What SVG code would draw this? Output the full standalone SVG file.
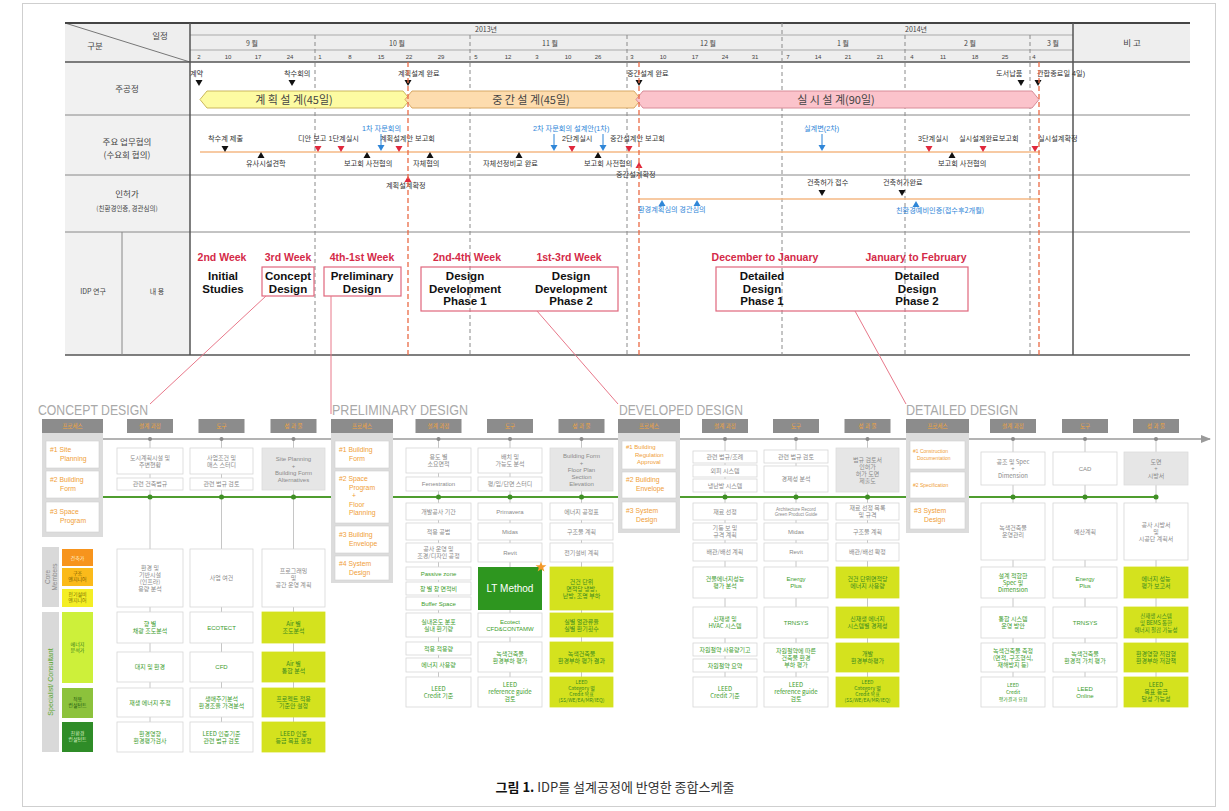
<svg xmlns="http://www.w3.org/2000/svg" width="1229" height="811" viewBox="0 0 1229 811">
<defs>
<style>
text{font-family:"Liberation Sans","Noto Sans CJK KR",sans-serif;}
.k{font-family:"Noto Sans CJK KR","Liberation Sans",sans-serif;}
.hd{font-size:7px;fill:#444;text-anchor:middle;}
.lb{font-size:8.5px;fill:#444;text-anchor:middle;}
.ms{font-size:7.2px;fill:#333;}
.bl{font-size:7.2px;fill:#2f86d8;}
.band{font-size:11px;fill:#444;text-anchor:middle;}
.wk{font-size:10.5px;fill:#d42a48;font-weight:bold;text-anchor:middle;}
.idp{font-size:11.5px;fill:#111;font-weight:bold;text-anchor:middle;}
.ibox{fill:none;stroke:#e0667c;stroke-width:1.2;}
.gl{stroke:#555;stroke-width:1.5;}
.rl{stroke:#888;stroke-width:1;}
.md{stroke:#8a8a8a;stroke-width:1;stroke-dasharray:4 3;}
.rd{stroke:#ea6a45;stroke-width:1.3;stroke-dasharray:5 3;}
.ph{font-size:14px;fill:#a9a9a9;}
.tab{fill:#8c8c8c;}
.tt{font-size:5.5px;fill:#f3a43a;text-anchor:middle;}
.pan{fill:#dcdcdc;}
.it{fill:#ffffff;stroke:#d0d0d0;stroke-width:0.6;}
.io{font-size:6.8px;fill:#f0a038;}
.bx{fill:#ffffff;stroke:#d6d6d6;stroke-width:0.8;}
.gx{fill:#e6e6e6;stroke:#dcdcdc;stroke-width:0.8;}
.yx{fill:#d4e21e;stroke:#d4e21e;stroke-width:0.8;}
.t{font-size:6px;fill:#8a8a8a;text-anchor:middle;}
.g{font-size:6px;fill:#3d9c2c;text-anchor:middle;}
.y{font-size:6px;fill:#3a8a1e;text-anchor:middle;}
.vc{stroke:#c6c6c6;stroke-width:1;}
.pk{stroke:#e8788a;stroke-width:1;fill:none;}
</style>
<marker id="ah" markerWidth="10" markerHeight="8" refX="9" refY="4" orient="auto" markerUnits="userSpaceOnUse">
<path d="M0,0 L10,4 L0,8 z" fill="#9a9a9a"/>
</marker>
<path id="dn" d="M-3.5,0 h7 l-3.5,6 z"/>
<path id="up" d="M-3.5,6 h7 l-3.5,-6 z"/>
</defs>
<rect x="0" y="0" width="1229" height="811" fill="#ffffff"/>
<rect x="22.5" y="3.5" width="1193" height="803" fill="none" stroke="#cfcfcf" stroke-width="1"/>

<!-- ===== TOP SCHEDULE TABLE ===== -->
<g id="schedule-table">
<rect x="65" y="23" width="1125" height="39" fill="#eeeeee"/>
<rect x="65" y="62" width="125" height="293" fill="#f1f1f1"/>
<line x1="65" y1="23" x2="190" y2="62" stroke="#777" stroke-width="1"/>
<text class="lb k" x="95" y="49">구분</text>
<text class="lb k" x="160" y="39">일정</text>
<text class="hd k" x="486" y="32">2013년</text>
<text class="hd k" x="916" y="32">2014년</text>
<text class="hd k" x="252" y="46">9 월</text>
<text class="hd k" x="397" y="46">10 월</text>
<text class="hd k" x="550" y="46">11 월</text>
<text class="hd k" x="708" y="46">12 월</text>
<text class="hd k" x="843" y="46">1 월</text>
<text class="hd k" x="970" y="46">2 월</text>
<text class="hd k" x="1053" y="46">3 월</text>
<text class="lb k" x="1132" y="46">비 고</text>
<g class="hd" style="font-size:6px">
<text x="199" y="59">2</text><text x="228" y="59">10</text><text x="258" y="59">17</text><text x="290" y="59">24</text>
<text x="320" y="59">1</text><text x="350" y="59">8</text><text x="381" y="59">15</text><text x="409" y="59">22</text><text x="441" y="59">29</text>
<text x="476" y="59">5</text><text x="508" y="59">12</text><text x="537" y="59">3</text><text x="568" y="59">10</text><text x="598" y="59">26</text>
<text x="632" y="59">3</text><text x="663" y="59">10</text><text x="695" y="59">17</text><text x="725" y="59">24</text><text x="755" y="59">31</text>
<text x="788" y="59">7</text><text x="818" y="59">14</text><text x="848" y="59">21</text><text x="880" y="59">21</text>
<text x="912" y="59">4</text><text x="943" y="59">11</text><text x="975" y="59">18</text><text x="1005" y="59">25</text>
<text x="1034" y="59">4</text>
</g>
<line x1="190" y1="35" x2="1073" y2="35" stroke="#aaa"/>
<line x1="190" y1="50" x2="1073" y2="50" stroke="#aaa"/>
<line x1="65" y1="23" x2="1190" y2="23" stroke="#444" stroke-width="2"/>
<line x1="65" y1="62" x2="1190" y2="62" class="gl"/>
<line x1="65" y1="115" x2="1190" y2="115" class="rl"/>
<line x1="65" y1="175" x2="1190" y2="175" class="rl"/>
<line x1="65" y1="232" x2="1190" y2="232" class="rl"/>
<line x1="65" y1="355" x2="1190" y2="355" class="gl"/>
<line x1="190" y1="23" x2="190" y2="355" class="gl"/>
<line x1="1073" y1="23" x2="1073" y2="355" class="gl"/>
<line x1="122" y1="232" x2="122" y2="355" class="rl"/>
<g>
<line x1="315" y1="35" x2="315" y2="355" class="md"/>
<line x1="470" y1="35" x2="470" y2="355" class="md"/>
<line x1="627" y1="35" x2="627" y2="355" class="md"/>
<line x1="782" y1="23" x2="782" y2="355" class="md"/>
<line x1="905" y1="35" x2="905" y2="355" class="md"/>
<line x1="1030" y1="35" x2="1030" y2="355" class="md"/>
</g>
<text class="lb k" x="127" y="92">주공정</text>
<text class="lb k" x="127" y="145">주요 업무협의</text>
<text class="lb k" x="127" y="158">(수요회 협의)</text>
<text class="lb k" x="127" y="197">인허가</text>
<text class="lb k" x="127" y="211" style="font-size:6.5px">(친환경인증, 경관심의)</text>
<text class="lb k" x="93" y="294" style="font-size:7px">IDP 연구</text>
<text class="lb k" x="157" y="294" style="font-size:7px">내 용</text>
</g>

<!-- main process bands -->
<g id="main-process">
<polygon points="200,99.5 207,91 403,91 410,99.5 403,108 207,108" fill="#fdfba2" stroke="#cbb75c" stroke-width="1"/>
<polygon points="405,99.5 412,91 634,91 641,99.5 634,108 412,108" fill="#fddcae" stroke="#d8a864" stroke-width="1"/>
<polygon points="636,99.5 643,91 1032,91 1039,99.5 1032,108 643,108" fill="#fbc3cb" stroke="#d88c98" stroke-width="1"/>
<text class="band k" x="294" y="103.5">계 획 설 계(45일)</text>
<text class="band k" x="531" y="103.5">중 간 설 계(45일)</text>
<text class="band k" x="836" y="103.5">실 시 설 계(90일)</text>
<g class="ms k">
<text x="190" y="76">계약</text>
<text x="284" y="76">착수회의</text>
<text x="398" y="76">계획설계 완료</text>
<text x="627" y="76">중간설계 완료</text>
<text x="996" y="76">도서납품</text>
<text x="1037" y="76">관합종료일 4일)</text>
</g>
<g fill="#111">
<use href="#dn" x="199" y="80"/><use href="#dn" x="292" y="80"/><use href="#dn" x="408" y="80"/>
<use href="#dn" x="639" y="80"/><use href="#dn" x="1021" y="80"/><use href="#dn" x="1038" y="80"/>
</g>
</g>

<!-- consultations -->
<g id="consultations">
<line x1="200" y1="152" x2="1040" y2="152" stroke="#f4b884" stroke-width="1.5"/>
<g class="ms k">
<text x="208" y="141">착수계 제출</text>
<text x="246" y="166">유사시설견학</text>
<text x="298" y="141">디안 보고 1단계실시</text>
<text x="380" y="141">계획설계안 보고회</text>
<text x="344" y="166">보고회 사전협의</text>
<text x="413" y="166">자체협의</text>
<text x="483" y="166">자체선정비교 완료</text>
<text x="562" y="141">2단계실시</text>
<text x="610" y="141">중간설계안 보고회</text>
<text x="584" y="166">보고회 사전협의</text>
<text x="616" y="177">중간설계확정</text>
<text x="918" y="141">3단계실시</text>
<text x="959" y="141">실시설계완료보고회</text>
<text x="938" y="166">보고회 사전협의</text>
<text x="1038" y="141">실시설계확정</text>
</g>
<g class="bl k">
<text x="362" y="131">1차 자문회의</text>
<text x="533" y="131">2차 자문회의 설계안(1차)</text>
<text x="804" y="131">실계변(2차)</text>
</g>
<g fill="#111">
<use href="#dn" x="225" y="146"/>
<use href="#up" x="261" y="152"/><use href="#up" x="367" y="152"/><use href="#up" x="430" y="152"/>
<use href="#up" x="519" y="152"/><use href="#up" x="598" y="152"/><use href="#up" x="952" y="152"/>
</g>
<g fill="#e0283c">
<use href="#dn" x="318" y="146"/><use href="#dn" x="341" y="146"/><use href="#dn" x="399" y="146"/>
<use href="#dn" x="572" y="146"/><use href="#dn" x="629" y="146"/><use href="#dn" x="929" y="146"/>
<use href="#dn" x="983" y="146"/><use href="#dn" x="1035" y="146"/>
<use href="#up" x="639" y="162"/>
</g>
<g stroke="#2f86d8" stroke-width="1">
<line x1="381" y1="134" x2="381" y2="146"/><line x1="554" y1="134" x2="554" y2="146"/>
<line x1="603" y1="134" x2="603" y2="146"/><line x1="822" y1="134" x2="822" y2="146"/>
</g>
<g fill="#2f86d8">
<use href="#dn" x="381" y="145"/><use href="#dn" x="554" y="145"/><use href="#dn" x="603" y="145"/><use href="#dn" x="822" y="145"/>
</g>
</g>

<!-- permits -->
<g id="permits">
<line x1="640" y1="199" x2="1040" y2="199" stroke="#f4b884" stroke-width="1.5"/>
<use href="#up" x="408" y="176" fill="#e0283c"/>
<text class="ms k" x="386" y="188">계획설계확정</text>
<text class="ms k" x="807" y="185">건축허가 접수</text>
<text class="ms k" x="883" y="185">건축허가완료</text>
<g fill="#111"><use href="#dn" x="822" y="190"/><use href="#dn" x="902" y="190"/></g>
<g fill="#2f86d8"><use href="#up" x="662" y="200"/><use href="#up" x="697" y="200"/><use href="#up" x="916" y="201"/></g>
<text class="bl k" x="638" y="212">환경계획심의  경관심의</text>
<text class="bl k" x="896" y="213">친환경예비인증(접수후2개월)</text>
</g>

<!-- red dashed milestones -->
<g id="milestone-lines">
<line x1="408" y1="62" x2="408" y2="357" class="rd"/>
<line x1="639" y1="62" x2="639" y2="357" class="rd"/>
<line x1="1039" y1="62" x2="1039" y2="357" class="rd"/>
</g>

<!-- IDP row -->
<g id="idp-row">
<text class="wk" x="222" y="261">2nd Week</text>
<text class="wk" x="288" y="261">3rd Week</text>
<text class="wk" x="362" y="261">4th-1st Week</text>
<text class="wk" x="467" y="261">2nd-4th Week</text>
<text class="wk" x="569" y="261">1st-3rd Week</text>
<text class="wk" x="765" y="261">December to January</text>
<text class="wk" x="916" y="261">January to February</text>
<text class="idp" x="223" y="280"><tspan x="223" dy="0">Initial</tspan><tspan x="223" dy="13">Studies</tspan></text>
<g id="idp-concept"><rect class="ibox" x="262" y="267" width="52" height="29"/>
<text class="idp" x="288" y="280"><tspan x="288" dy="0">Concept</tspan><tspan x="288" dy="13">Design</tspan></text></g>
<g id="idp-prelim"><rect class="ibox" x="324" y="267" width="77" height="29"/>
<text class="idp" x="362" y="280"><tspan x="362" dy="0">Preliminary</tspan><tspan x="362" dy="13">Design</tspan></text></g>
<g id="idp-dd"><rect class="ibox" x="421" y="267" width="197" height="44"/>
<text class="idp" x="465" y="280"><tspan x="465" dy="0">Design</tspan><tspan x="465" dy="12.5">Development</tspan><tspan x="465" dy="12.5">Phase 1</tspan></text>
<text class="idp" x="571" y="280"><tspan x="571" dy="0">Design</tspan><tspan x="571" dy="12.5">Development</tspan><tspan x="571" dy="12.5">Phase 2</tspan></text></g>
<g id="idp-detailed"><rect class="ibox" x="716" y="267" width="252" height="44"/>
<text class="idp" x="762" y="280"><tspan x="762" dy="0">Detailed</tspan><tspan x="762" dy="12.5">Design</tspan><tspan x="762" dy="12.5">Phase 1</tspan></text>
<text class="idp" x="917" y="280"><tspan x="917" dy="0">Detailed</tspan><tspan x="917" dy="12.5">Design</tspan><tspan x="917" dy="12.5">Phase 2</tspan></text></g>
</g>

<!-- connectors -->
<g id="connectors">
<line class="pk" x1="266" y1="296" x2="150" y2="404"/>
<line class="pk" x1="331" y1="296" x2="331" y2="414"/>
<line class="pk" x1="537" y1="311" x2="618" y2="404"/>
<line class="pk" x1="855" y1="311" x2="906" y2="404"/>
<line x1="103" y1="439" x2="1210" y2="439" stroke="#9a9a9a" stroke-width="1.5" marker-end="url(#ah)"/>
<line x1="103" y1="497" x2="1158" y2="497" stroke="#4f9d2f" stroke-width="2"/>
<g class="vc">
<line x1="150" y1="439" x2="150" y2="752"/><line x1="221.5" y1="439" x2="221.5" y2="752"/><line x1="293.5" y1="439" x2="293.5" y2="752"/>
<line x1="438.5" y1="439" x2="438.5" y2="707"/><line x1="510" y1="439" x2="510" y2="707"/><line x1="581.5" y1="439" x2="581.5" y2="707"/>
<line x1="725" y1="439" x2="725" y2="707"/><line x1="796" y1="439" x2="796" y2="707"/><line x1="867.5" y1="439" x2="867.5" y2="707"/>
<line x1="1013" y1="439" x2="1013" y2="707"/><line x1="1085" y1="439" x2="1085" y2="707"/><line x1="1156" y1="439" x2="1156" y2="707"/>
</g>
<g fill="#8a8a8a">
<circle cx="150" cy="439" r="2"/><circle cx="221.5" cy="439" r="2"/><circle cx="293.5" cy="439" r="2"/>
<circle cx="438.5" cy="439" r="2"/><circle cx="510" cy="439" r="2"/><circle cx="581.5" cy="439" r="2"/>
<circle cx="725" cy="439" r="2"/><circle cx="796" cy="439" r="2"/><circle cx="867.5" cy="439" r="2"/>
<circle cx="1013" cy="439" r="2"/><circle cx="1085" cy="439" r="2"/><circle cx="1156" cy="439" r="2"/>
</g>
<g fill="#3f8f25">
<circle cx="150" cy="497" r="2.5"/><circle cx="221.5" cy="497" r="2.5"/><circle cx="293.5" cy="497" r="2.5"/>
<circle cx="438.5" cy="497" r="2.5"/><circle cx="510" cy="497" r="2.5"/><circle cx="581.5" cy="497" r="2.5"/>
<circle cx="725" cy="497" r="2.5"/><circle cx="796" cy="497" r="2.5"/><circle cx="867.5" cy="497" r="2.5"/>
<circle cx="1013" cy="497" r="2.5"/><circle cx="1085" cy="497" r="2.5"/><circle cx="1156" cy="497" r="2.5"/>
</g>
</g>

<!-- phase titles & tabs -->
<g id="phase-headers">
<text class="ph" x="38" y="415" textLength="110" lengthAdjust="spacingAndGlyphs">CONCEPT  DESIGN</text>
<text class="ph" x="332" y="415" textLength="136" lengthAdjust="spacingAndGlyphs">PRELIMINARY  DESIGN</text>
<text class="ph" x="619" y="415" textLength="124" lengthAdjust="spacingAndGlyphs">DEVELOPED  DESIGN</text>
<text class="ph" x="906" y="415" textLength="112" lengthAdjust="spacingAndGlyphs">DETAILED  DESIGN</text>
<g class="tab">
<rect x="42" y="419" width="61" height="14"/><rect x="127" y="419" width="46" height="14"/><rect x="198.5" y="419" width="46" height="14"/><rect x="270.5" y="419" width="46" height="14"/>
<rect x="331" y="419" width="62" height="14"/><rect x="415.5" y="419" width="46" height="14"/><rect x="487" y="419" width="46" height="14"/><rect x="558.5" y="419" width="46" height="14"/>
<rect x="618" y="419" width="62" height="14"/><rect x="702" y="419" width="46" height="14"/><rect x="773" y="419" width="46" height="14"/><rect x="844.5" y="419" width="46" height="14"/>
<rect x="906" y="419" width="63" height="14"/><rect x="990" y="419" width="46" height="14"/><rect x="1062" y="419" width="46" height="14"/><rect x="1133" y="419" width="46" height="14"/>
</g>
<g class="tt k">
<text x="72.5" y="428">프로세스</text><text x="150" y="428">설계 과정</text><text x="221.5" y="428">도구</text><text x="293.5" y="428">성 과 물</text>
<text x="362" y="428">프로세스</text><text x="438.5" y="428">설계 과정</text><text x="510" y="428">도구</text><text x="581.5" y="428">성 과 물</text>
<text x="649" y="428">프로세스</text><text x="725" y="428">설계 과정</text><text x="796" y="428">도구</text><text x="867.5" y="428">성 과 물</text>
<text x="937.5" y="428">프로세스</text><text x="1013" y="428">설계 과정</text><text x="1085" y="428">도구</text><text x="1156" y="428">성 과 물</text>
</g>
</g>

<!-- IDP process panels -->
<g id="panel-concept">
<rect class="pan" x="42" y="433" width="61" height="104"/>
<rect class="it" x="46" y="441" width="53" height="27"/><rect class="it" x="46" y="471" width="53" height="27"/><rect class="it" x="46" y="502" width="53" height="30"/>
<text class="io" x="50" y="452"><tspan x="50" dy="0">#1 Site</tspan><tspan x="60" dy="9">Planning</tspan></text>
<text class="io" x="50" y="482"><tspan x="50" dy="0">#2 Building</tspan><tspan x="60" dy="9">Form</tspan></text>
<text class="io" x="50" y="514"><tspan x="50" dy="0">#3 Space</tspan><tspan x="60" dy="9">Program</tspan></text>
</g>
<g id="panel-prelim">
<rect class="pan" x="331" y="433" width="62" height="150"/>
<rect class="it" x="335" y="441" width="54" height="27"/><rect class="it" x="335" y="471" width="54" height="52"/><rect class="it" x="335" y="526" width="54" height="27"/><rect class="it" x="335" y="556" width="54" height="24"/>
<text class="io" x="339" y="452"><tspan x="339" dy="0">#1 Building</tspan><tspan x="349" dy="9">Form</tspan></text>
<text class="io" x="339" y="481"><tspan x="339" dy="0">#2 Space</tspan><tspan x="349" dy="8.5">Program</tspan><tspan x="352" dy="8.5">+</tspan><tspan x="349" dy="8.5">Floor</tspan><tspan x="349" dy="8.5">Planning</tspan></text>
<text class="io" x="339" y="537"><tspan x="339" dy="0">#3 Building</tspan><tspan x="349" dy="9">Envelope</tspan></text>
<text class="io" x="339" y="566"><tspan x="339" dy="0">#4 System</tspan><tspan x="349" dy="9">Design</tspan></text>
</g>
<g id="panel-developed">
<rect class="pan" x="618" y="433" width="62" height="100"/>
<rect class="it" x="622" y="441" width="54" height="28"/><rect class="it" x="622" y="472" width="54" height="26"/><rect class="it" x="622" y="502" width="54" height="27"/>
<text class="io" x="626" y="449" style="font-size:6px"><tspan x="626" dy="0">#1 Building</tspan><tspan x="635" dy="7.5">Regulation</tspan><tspan x="637" dy="7.5">Approval</tspan></text>
<text class="io" x="626" y="482"><tspan x="626" dy="0">#2 Building</tspan><tspan x="636" dy="9">Envelope</tspan></text>
<text class="io" x="626" y="513"><tspan x="626" dy="0">#3 System</tspan><tspan x="636" dy="9">Design</tspan></text>
</g>
<g id="panel-detailed">
<rect class="pan" x="906" y="433" width="63" height="100"/>
<rect class="it" x="910" y="441" width="55" height="28"/><rect class="it" x="910" y="472" width="55" height="26"/><rect class="it" x="910" y="502" width="55" height="27"/>
<text class="io" x="913" y="453" style="font-size:5px"><tspan x="913" dy="0">#1 Construction</tspan><tspan x="917" dy="6.5">Documentation</tspan></text>
<text class="io" x="913" y="487" style="font-size:5px">#2 Specification</text>
<text class="io" x="914" y="513"><tspan x="914" dy="0">#3 System</tspan><tspan x="924" dy="9">Design</tspan></text>
</g>

<!-- left role tags -->
<g id="roles">
<rect x="42" y="547" width="17" height="60" fill="#d9d9d9"/>
<text transform="translate(50.5,577) rotate(-90)" text-anchor="middle" style="font-size:6.5px;fill:#8a8a8a"><tspan x="0" dy="-1">Core</tspan><tspan x="0" dy="7">Members</tspan></text>
<rect x="62" y="549" width="31" height="17" fill="#f7941d"/>
<rect x="62" y="568" width="31" height="18" fill="#fbba1a"/>
<rect x="62" y="589" width="31" height="18" fill="#f4ee25"/>
<text class="k" x="77.5" y="559.5" text-anchor="middle" style="font-size:5px;fill:#fff3d0">건축가</text>
<text class="k" x="77.5" y="575" text-anchor="middle" style="font-size:5px;fill:#7a5a00"><tspan x="77.5" dy="0">구조</tspan><tspan x="77.5" dy="6">엔지니어</tspan></text>
<text class="k" x="77.5" y="596" text-anchor="middle" style="font-size:5px;fill:#7a7000"><tspan x="77.5" dy="0">전기설비</tspan><tspan x="77.5" dy="6">엔지니어</tspan></text>
<rect x="42" y="612" width="17" height="140" fill="#d9d9d9"/>
<text transform="translate(52.5,682) rotate(-90)" text-anchor="middle" style="font-size:7px;fill:#5aa62c">Specialist/ Consultant</text>
<rect x="62" y="612" width="31" height="71" fill="#cdf03a"/>
<rect x="62" y="688" width="31" height="30" fill="#8cc23c"/>
<rect x="62" y="722" width="31" height="30" fill="#2f8c28"/>
<text class="k" x="77.5" y="646" text-anchor="middle" style="font-size:5px;fill:#2f7a1a"><tspan x="77.5" dy="0">에너지</tspan><tspan x="77.5" dy="6">분석가</tspan></text>
<text class="k" x="77.5" y="701" text-anchor="middle" style="font-size:5px;fill:#1f5a10"><tspan x="77.5" dy="0">적용</tspan><tspan x="77.5" dy="6">컨설턴트</tspan></text>
<text class="k" x="77.5" y="735" text-anchor="middle" style="font-size:5px;fill:#d8f0c0"><tspan x="77.5" dy="0">친환경</tspan><tspan x="77.5" dy="6">컨설턴트</tspan></text>
</g>

<!-- CONCEPT columns -->
<g id="concept-col-a">
<rect class="bx" x="117" y="448" width="66" height="26"/><text class="t k" x="150" y="459.6"><tspan x="150" dy="0">도시계획시설 및</tspan><tspan x="150" dy="7">주변현황</tspan></text>
<rect class="bx" x="117" y="478" width="66" height="12"/><text class="t k" x="150" y="486.1">관련 건축법규</text>
<rect class="bx" x="117" y="549" width="66" height="58"/><text class="t k" x="150" y="569.6"><tspan x="150" dy="0">환경 및</tspan><tspan x="150" dy="7">기반시설</tspan><tspan x="150" dy="7">(인프라)</tspan><tspan x="150" dy="7">용량 분석</tspan></text>
<rect class="bx" x="117" y="612" width="66" height="31"/><text class="g k" x="150" y="626.1"><tspan x="150" dy="0">향 별</tspan><tspan x="150" dy="7">채광 조도분석</tspan></text>
<rect class="bx" x="117" y="652" width="66" height="30"/><text class="g k" x="150" y="669.1">대지 및 환경</text>
<rect class="bx" x="117" y="688" width="66" height="29"/><text class="g k" x="150" y="704.6">재생 에너지 추정</text>
<rect class="bx" x="117" y="722" width="66" height="30"/><text class="g k" x="150" y="735.6"><tspan x="150" dy="0">환경영향</tspan><tspan x="150" dy="7">환경평가검사</tspan></text>
</g>
<g id="concept-col-b">
<rect class="bx" x="190" y="448" width="63" height="26"/><text class="t k" x="221.5" y="459.6"><tspan x="221.5" dy="0">사업조건 및</tspan><tspan x="221.5" dy="7">매스 스터디</tspan></text>
<rect class="bx" x="190" y="478" width="63" height="12"/><text class="t k" x="221.5" y="486.1">관련 법규 검토</text>
<rect class="bx" x="190" y="549" width="63" height="58"/><text class="t k" x="221.5" y="580.1">사업 여건</text>
<rect class="bx" x="190" y="612" width="63" height="31"/><text class="g" x="221.5" y="629.6">ECOTECT</text>
<rect class="bx" x="190" y="652" width="63" height="30"/><text class="g" x="221.5" y="669.1">CFD</text>
<rect class="bx" x="190" y="688" width="63" height="29"/><text class="g k" x="221.5" y="701.1"><tspan x="221.5" dy="0">생애주기분석</tspan><tspan x="221.5" dy="7">환경조율 가격분석</tspan></text>
<rect class="bx" x="190" y="722" width="63" height="30"/><text class="g k" x="221.5" y="735.6"><tspan x="221.5" dy="0">LEED 인증기준</tspan><tspan x="221.5" dy="7">관련 법규 검토</tspan></text>
</g>
<g id="concept-col-c">
<rect class="gx" x="262" y="448" width="63" height="42"/><text class="t" x="293.5" y="460.6"><tspan x="293.5" dy="0">Site Planning</tspan><tspan x="293.5" dy="7">+</tspan><tspan x="293.5" dy="7">Building Form</tspan><tspan x="293.5" dy="7">Alternatives</tspan></text>
<rect class="bx" x="262" y="549" width="63" height="58"/><text class="t k" x="293.5" y="573.1"><tspan x="293.5" dy="0">프로그래밍</tspan><tspan x="293.5" dy="7">및</tspan><tspan x="293.5" dy="7">공간 운영 계획</tspan></text>
<rect class="yx" x="262" y="612" width="63" height="31"/><text class="y k" x="293.5" y="626.1"><tspan x="293.5" dy="0">Air 별</tspan><tspan x="293.5" dy="7">조도분석</tspan></text>
<rect class="yx" x="262" y="652" width="63" height="30"/><text class="y k" x="293.5" y="665.6"><tspan x="293.5" dy="0">Air 별</tspan><tspan x="293.5" dy="7">통합 분석</tspan></text>
<rect class="yx" x="262" y="688" width="63" height="29"/><text class="y k" x="293.5" y="701.1"><tspan x="293.5" dy="0">프로젝트 적용</tspan><tspan x="293.5" dy="7">기준안 설정</tspan></text>
<rect class="yx" x="262" y="722" width="63" height="30"/><text class="y k" x="293.5" y="735.6"><tspan x="293.5" dy="0">LEED 인증</tspan><tspan x="293.5" dy="7">등급 목표 설정</tspan></text>
</g>

<!-- PRELIMINARY columns -->
<g id="prelim-col-a">
<rect class="bx" x="406" y="448" width="65" height="25"/><text class="t k" x="438.5" y="459.1"><tspan x="438.5" dy="0">용도 별</tspan><tspan x="438.5" dy="7">소요면적</tspan></text>
<rect class="bx" x="406" y="477" width="65" height="14"/><text class="t" x="438.5" y="486.1">Fenestration</text>
<rect class="bx" x="406" y="503" width="65" height="17"/><text class="t k" x="438.5" y="513.6">개발공사 기간</text>
<rect class="bx" x="406" y="523" width="65" height="17"/><text class="t k" x="438.5" y="533.6">적용 공법</text>
<rect class="bx" x="406" y="543" width="65" height="19"/><text class="t k" x="438.5" y="551.1"><tspan x="438.5" dy="0">공사 운영 및</tspan><tspan x="438.5" dy="7">조경/디자인 공정</tspan></text>
<rect class="bx" x="406" y="567" width="65" height="13"/><text class="g" x="438.5" y="575.6">Passive zone</text>
<rect class="bx" x="406" y="582" width="65" height="13"/><text class="g k" x="438.5" y="590.6">창 별 창 면적비</text>
<rect class="bx" x="406" y="597" width="65" height="13"/><text class="g" x="438.5" y="605.6">Buffer Space</text>
<rect class="bx" x="406" y="613" width="65" height="24"/><text class="g k" x="438.5" y="623.6"><tspan x="438.5" dy="0">실내온도 분포</tspan><tspan x="438.5" dy="7">실내 환기량</tspan></text>
<rect class="bx" x="406" y="642" width="65" height="13"/><text class="g k" x="438.5" y="650.6">적용 적용량</text>
<rect class="bx" x="406" y="658" width="65" height="14"/><text class="g k" x="438.5" y="667.1">에너지 사용량</text>
<rect class="bx" x="406" y="677" width="65" height="30"/><text class="g k" x="438.5" y="690.6"><tspan x="438.5" dy="0">LEED</tspan><tspan x="438.5" dy="7">Credit 기준</tspan></text>
</g>
<g id="prelim-col-b">
<rect class="bx" x="478" y="448" width="64" height="25"/><text class="t k" x="510" y="459.1"><tspan x="510" dy="0">배치 및</tspan><tspan x="510" dy="7">가능도 분석</tspan></text>
<rect class="bx" x="478" y="477" width="64" height="14"/><text class="t k" x="510" y="486.1">평/입/단면 스터디</text>
<rect class="bx" x="478" y="503" width="64" height="17"/><text class="t" x="510" y="513.6">Primavera</text>
<rect class="bx" x="478" y="523" width="64" height="17"/><text class="t" x="510" y="533.6">Midas</text>
<rect class="bx" x="478" y="543" width="64" height="19"/><text class="t" x="510" y="554.6">Revit</text>
<rect x="478" y="567" width="64" height="43" fill="#2e961f"/><text x="510" y="592" text-anchor="middle" style="font-size:10px;fill:#ffffff">LT Method</text>
<polygon points="541,561.5 542.4,565.3 546.4,565.3 543.2,567.7 544.4,571.5 541,569.2 537.6,571.5 538.8,567.7 535.6,565.3 539.6,565.3" fill="#f39a2a"/>
<rect class="bx" x="478" y="613" width="64" height="24"/><text class="g" x="510" y="623.6"><tspan x="510" dy="0">Ecotect</tspan><tspan x="510" dy="7">CFD&amp;CONTAMW</tspan></text>
<rect class="bx" x="478" y="642" width="64" height="30"/><text class="g k" x="510" y="655.6"><tspan x="510" dy="0">녹색건축물</tspan><tspan x="510" dy="7">환경부하 평가</tspan></text>
<rect class="bx" x="478" y="677" width="64" height="30"/><text class="g k" x="510" y="687.1"><tspan x="510" dy="0">LEED</tspan><tspan x="510" dy="7">reference guide</tspan><tspan x="510" dy="7">검토</tspan></text>
</g>
<g id="prelim-col-c">
<rect class="gx" x="550" y="448" width="63" height="43"/><text class="t" x="581.5" y="457.6"><tspan x="581.5" dy="0">Building Form</tspan><tspan x="581.5" dy="7">+</tspan><tspan x="581.5" dy="7">Floor Plan</tspan><tspan x="581.5" dy="7">Section</tspan><tspan x="581.5" dy="7">Elevation</tspan></text>
<rect class="bx" x="550" y="503" width="63" height="17"/><text class="t k" x="581.5" y="513.6">에너지 공정표</text>
<rect class="bx" x="550" y="523" width="63" height="17"/><text class="t k" x="581.5" y="533.6">구조물 계획</text>
<rect class="bx" x="550" y="543" width="63" height="19"/><text class="t k" x="581.5" y="554.6">전기설비 계획</text>
<rect class="yx" x="550" y="567" width="63" height="43"/><text class="y k" x="581.5" y="583.6"><tspan x="581.5" dy="0">건건 단위</tspan><tspan x="581.5" dy="7">면적당 냉방,</tspan><tspan x="581.5" dy="7">난방, 조명 부하</tspan></text>
<rect class="yx" x="550" y="613" width="63" height="24"/><text class="y k" x="581.5" y="623.6"><tspan x="581.5" dy="0">실별 열관류율</tspan><tspan x="581.5" dy="7">실별 환기횟수</tspan></text>
<rect class="yx" x="550" y="642" width="63" height="30"/><text class="y k" x="581.5" y="655.6"><tspan x="581.5" dy="0">녹색건축물</tspan><tspan x="581.5" dy="7">환경부하 평가 결과</tspan></text>
<rect class="yx" x="550" y="677" width="63" height="30"/><text class="y k" x="581.5" y="684" style="font-size:5px"><tspan x="581.5" dy="0">LEED</tspan><tspan x="581.5" dy="6">Category 별</tspan><tspan x="581.5" dy="6">Credit 목표</tspan><tspan x="581.5" dy="6">(SS/WE/EA/MR/IEQ)</tspan></text>
</g>

<!-- DEVELOPED columns -->
<g id="dev-col-a">
<rect class="bx" x="693" y="451" width="64" height="12"/><text class="t k" x="725" y="459.1">관련 법규/조례</text>
<rect class="bx" x="693" y="465" width="64" height="12"/><text class="t k" x="725" y="473.1">외피 시스템</text>
<rect class="bx" x="693" y="479" width="64" height="13"/><text class="t k" x="725" y="487.6">냉난방 시스템</text>
<rect class="bx" x="693" y="503" width="64" height="17"/><text class="t k" x="725" y="513.6">재료 선정</text>
<rect class="bx" x="693" y="523" width="64" height="17"/><text class="t k" x="725" y="530.1"><tspan x="725" dy="0">기둥 보 및</tspan><tspan x="725" dy="7">규격 계획</tspan></text>
<rect class="bx" x="693" y="543" width="64" height="18"/><text class="t k" x="725" y="554.1">배관/배선 계획</text>
<rect class="bx" x="693" y="567" width="64" height="31"/><text class="g k" x="725" y="581.1"><tspan x="725" dy="0">건물에너지성능</tspan><tspan x="725" dy="7">평가 분석</tspan></text>
<rect class="bx" x="693" y="607" width="64" height="31"/><text class="g k" x="725" y="621.1"><tspan x="725" dy="0">신재생 및</tspan><tspan x="725" dy="7">HVAC 시스템</tspan></text>
<rect class="bx" x="693" y="643" width="64" height="13"/><text class="g k" x="725" y="651.6">자원절약 사용량기고</text>
<rect class="bx" x="693" y="659" width="64" height="13"/><text class="g k" x="725" y="667.6">자원절약 요약</text>
<rect class="bx" x="693" y="677" width="64" height="30"/><text class="g k" x="725" y="690.6"><tspan x="725" dy="0">LEED</tspan><tspan x="725" dy="7">Credit 기준</tspan></text>
</g>
<g id="dev-col-b">
<rect class="bx" x="764" y="450" width="64" height="13"/><text class="t k" x="796" y="458.6">관련 법규 검토</text>
<rect class="bx" x="764" y="466" width="64" height="26"/><text class="t k" x="796" y="481.1">경제성 분석</text>
<rect class="bx" x="764" y="503" width="64" height="17"/><text class="t" x="796" y="510.5" style="font-size:4.5px"><tspan x="796" dy="0">Architecture Record</tspan><tspan x="796" dy="5.5">Green Product Guide</tspan></text>
<rect class="bx" x="764" y="523" width="64" height="17"/><text class="t" x="796" y="533.6">Midas</text>
<rect class="bx" x="764" y="543" width="64" height="18"/><text class="t" x="796" y="554.1">Revit</text>
<rect class="bx" x="764" y="567" width="64" height="31"/><text class="g" x="796" y="581.1"><tspan x="796" dy="0">Energy</tspan><tspan x="796" dy="7">Plus</tspan></text>
<rect class="bx" x="764" y="607" width="64" height="31"/><text class="g" x="796" y="624.6">TRNSYS</text>
<rect class="bx" x="764" y="643" width="64" height="29"/><text class="g k" x="796" y="652.6"><tspan x="796" dy="0">자원절약에 따른</tspan><tspan x="796" dy="7">건축물 환경</tspan><tspan x="796" dy="7">부하 평가</tspan></text>
<rect class="bx" x="764" y="677" width="64" height="30"/><text class="g k" x="796" y="687.1"><tspan x="796" dy="0">LEED</tspan><tspan x="796" dy="7">reference guide</tspan><tspan x="796" dy="7">검토</tspan></text>
</g>
<g id="dev-col-c">
<rect class="gx" x="836" y="448" width="63" height="44"/><text class="t k" x="867.5" y="461.6"><tspan x="867.5" dy="0">법규 검토서</tspan><tspan x="867.5" dy="7">인허가</tspan><tspan x="867.5" dy="7">허가 도면</tspan><tspan x="867.5" dy="7">제출도</tspan></text>
<rect class="bx" x="836" y="503" width="63" height="17"/><text class="t k" x="867.5" y="510.1"><tspan x="867.5" dy="0">재료 선정 목록</tspan><tspan x="867.5" dy="7">및 규격</tspan></text>
<rect class="bx" x="836" y="523" width="63" height="17"/><text class="t k" x="867.5" y="533.6">구조물 계획</text>
<rect class="bx" x="836" y="543" width="63" height="18"/><text class="t k" x="867.5" y="554.1">배관/배선 확정</text>
<rect class="yx" x="836" y="567" width="63" height="31"/><text class="y k" x="867.5" y="581.1"><tspan x="867.5" dy="0">건건 단위면적당</tspan><tspan x="867.5" dy="7">에너지 사용량</tspan></text>
<rect class="yx" x="836" y="607" width="63" height="31"/><text class="y k" x="867.5" y="621.1"><tspan x="867.5" dy="0">신재생 에너지</tspan><tspan x="867.5" dy="7">시스템별 경제성</tspan></text>
<rect class="yx" x="836" y="643" width="63" height="29"/><text class="y k" x="867.5" y="656.1"><tspan x="867.5" dy="0">개발</tspan><tspan x="867.5" dy="7">환경부하평가</tspan></text>
<rect class="yx" x="836" y="677" width="63" height="30"/><text class="y k" x="867.5" y="684" style="font-size:5px"><tspan x="867.5" dy="0">LEED</tspan><tspan x="867.5" dy="6">Category 별</tspan><tspan x="867.5" dy="6">Credit 목표</tspan><tspan x="867.5" dy="6">(SS/WE/EA/MR/IEQ)</tspan></text>
</g>

<!-- DETAILED columns -->
<g id="det-col-a">
<rect class="bx" x="981" y="452" width="64" height="33"/><text class="t k" x="1013" y="463.6"><tspan x="1013" dy="0">공조 및 Spec</tspan><tspan x="1013" dy="7">+</tspan><tspan x="1013" dy="7">Dimension</tspan></text>
<rect class="bx" x="981" y="503" width="64" height="57"/><text class="t k" x="1013" y="530.1"><tspan x="1013" dy="0">녹색건축물</tspan><tspan x="1013" dy="7">운영관리</tspan></text>
<rect class="bx" x="981" y="567" width="64" height="31"/><text class="g k" x="1013" y="577.6"><tspan x="1013" dy="0">설계 적합한</tspan><tspan x="1013" dy="7">Spec 및</tspan><tspan x="1013" dy="7">Dimension</tspan></text>
<rect class="bx" x="981" y="607" width="64" height="31"/><text class="g k" x="1013" y="621.1"><tspan x="1013" dy="0">통합 시스템</tspan><tspan x="1013" dy="7">운영 방안</tspan></text>
<rect class="bx" x="981" y="643" width="64" height="29"/><text class="g k" x="1013" y="652.6"><tspan x="1013" dy="0">녹색건축물 측정</tspan><tspan x="1013" dy="7">(면적, 구조형식,</tspan><tspan x="1013" dy="7">재해방지 등)</tspan></text>
<rect class="bx" x="981" y="677" width="64" height="30"/><text class="g k" x="1013" y="687.1" style="font-size:5px"><tspan x="1013" dy="0">LEED</tspan><tspan x="1013" dy="7">Credit</tspan><tspan x="1013" dy="7">평가결과 요청</tspan></text>
</g>
<g id="det-col-b">
<rect class="bx" x="1053" y="452" width="64" height="33"/><text class="t" x="1085" y="470.6">CAD</text>
<rect class="bx" x="1053" y="503" width="64" height="57"/><text class="t k" x="1085" y="533.6">예산계획</text>
<rect class="bx" x="1053" y="567" width="64" height="31"/><text class="g" x="1085" y="581.1"><tspan x="1085" dy="0">Energy</tspan><tspan x="1085" dy="7">Plus</tspan></text>
<rect class="bx" x="1053" y="607" width="64" height="31"/><text class="g" x="1085" y="624.6">TRNSYS</text>
<rect class="bx" x="1053" y="643" width="64" height="29"/><text class="g k" x="1085" y="656.1"><tspan x="1085" dy="0">녹색건축물</tspan><tspan x="1085" dy="7">환경적 가치 평가</tspan></text>
<rect class="bx" x="1053" y="677" width="64" height="30"/><text class="g" x="1085" y="690.6"><tspan x="1085" dy="0">LEED</tspan><tspan x="1085" dy="7">Online</tspan></text>
</g>
<g id="det-col-c">
<rect class="gx" x="1124" y="452" width="64" height="33"/><text class="t k" x="1156" y="463.6"><tspan x="1156" dy="0">도면</tspan><tspan x="1156" dy="7">+</tspan><tspan x="1156" dy="7">시방서</tspan></text>
<rect class="bx" x="1124" y="503" width="64" height="57"/><text class="t k" x="1156" y="526.6"><tspan x="1156" dy="0">공사 시방서</tspan><tspan x="1156" dy="7">및</tspan><tspan x="1156" dy="7">시공단 계획서</tspan></text>
<rect class="yx" x="1124" y="567" width="64" height="31"/><text class="y k" x="1156" y="581.1"><tspan x="1156" dy="0">에너지 성능</tspan><tspan x="1156" dy="7">평가 보고서</tspan></text>
<rect class="yx" x="1124" y="607" width="64" height="31"/><text class="y k" x="1156" y="617.6" style="font-size:5.5px"><tspan x="1156" dy="0">신재생 시스템</tspan><tspan x="1156" dy="7">및 BEMS 통한</tspan><tspan x="1156" dy="7">에너지 절감 가능성</tspan></text>
<rect class="yx" x="1124" y="643" width="64" height="29"/><text class="y k" x="1156" y="656.1"><tspan x="1156" dy="0">환경영향 저감형</tspan><tspan x="1156" dy="7">환경부하 저감책</tspan></text>
<rect class="yx" x="1124" y="677" width="64" height="30"/><text class="y k" x="1156" y="687.1"><tspan x="1156" dy="0">LEED</tspan><tspan x="1156" dy="7">목표 등급</tspan><tspan x="1156" dy="7">달성 가능성</tspan></text>
</g>

<!-- caption -->
<text class="k" x="615" y="792" text-anchor="middle" style="font-size:13px;fill:#333"><tspan style="font-weight:bold;fill:#111">그림 1.</tspan> IDP를 설계공정에 반영한 종합스케줄</text>
</svg>
